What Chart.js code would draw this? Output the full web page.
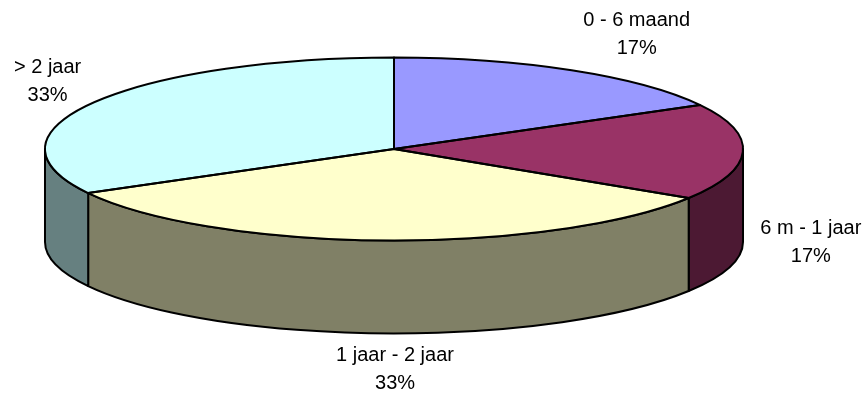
<!DOCTYPE html>
<html>
<head>
<meta charset="utf-8">
<script src="https://cdn.jsdelivr.net/npm/chart.js@4.4.1/dist/chart.umd.min.js"></script>
<style>
  html, body { margin: 0; padding: 0; background: #fff; }
  canvas { display: block; }
</style>
</head>
<body>
<canvas id="ageChart" width="866" height="394"></canvas>
<script>
// Age groups and their share (percent)
const categories = ['0 - 6 maand', '6 m - 1 jaar', '1 jaar - 2 jaar', '> 2 jaar'];
const shares = [17, 17, 33, 33];

const topColors = ['#9999FF', '#993366', '#FFFFCC', '#CCFFFF'];
const sideColors = ['#4C4C80', '#4C1933', '#808066', '#668080'];

// Turns the flat pie into a tilted disc: squash to an ellipse, add a rim, put labels outside
const pie3d = {
    id: 'pie3d',
    geometry(chart) {
        const area = chart.chartArea;
        const arcs = chart.getDatasetMeta(0).data;
        const r = arcs[0].outerRadius;
        return { cx: arcs[0].x, cy: arcs[0].y, rx: (area.right - area.left) / 2, ry: r, r: r, arcs: arcs };
    },
    beforeDatasetsDraw(chart, args, opts) {
        const ctx = chart.ctx;
        const g = this.geometry(chart);

        // front rim, only the part facing the viewer (0..PI)
        ctx.save();
        ctx.lineWidth = opts.lineWidth;
        ctx.strokeStyle = opts.lineColor;
        ctx.lineJoin = 'round';
        g.arcs.forEach((arc, i) => {
            const a = Math.max(arc.startAngle, 0);
            const b = Math.min(arc.endAngle, Math.PI);
            if (b <= a) return;
            ctx.beginPath();
            ctx.ellipse(g.cx, g.cy, g.rx, g.ry, 0, a, b);
            ctx.ellipse(g.cx, g.cy + opts.depth, g.rx, g.ry, 0, b, a, true);
            ctx.closePath();
            ctx.fillStyle = sideColors[i];
            ctx.fill();
            ctx.stroke();
        });
        ctx.restore();

        // top face: let Chart.js draw its arcs, stretched horizontally
        ctx.save();
        ctx.translate(g.cx, g.cy);
        ctx.scale(g.rx / g.r, g.ry / g.r);
        ctx.translate(-g.cx, -g.cy);
    },
    afterDatasetsDraw(chart, args, opts) {
        const ctx = chart.ctx;
        ctx.restore();
        const g = this.geometry(chart);
        const total = shares.reduce((s, v) => s + v, 0);

        ctx.save();
        ctx.lineWidth = opts.lineWidth;
        ctx.strokeStyle = opts.lineColor;
        ctx.lineJoin = 'round';
        g.arcs.forEach((arc) => {
            ctx.beginPath();
            ctx.moveTo(g.cx, g.cy);
            ctx.ellipse(g.cx, g.cy, g.rx, g.ry, 0, arc.startAngle, arc.endAngle);
            ctx.closePath();
            ctx.stroke();
        });

        ctx.fillStyle = '#000';
        ctx.font = opts.font;
        ctx.textAlign = 'center';
        ctx.textBaseline = 'middle';
        g.arcs.forEach((arc, i) => {
            const mid = (arc.startAngle + arc.endAngle) / 2;
            const x = g.cx + g.rx * Math.cos(mid) + opts.labelOffsets[i][0];
            const y = g.cy + g.ry * Math.sin(mid) + opts.labelOffsets[i][1];
            const pct = Math.round(shares[i] / total * 100) + '%';
            ctx.fillText(categories[i], x, y - opts.lineHeight / 2);
            ctx.fillText(pct, x, y + opts.lineHeight / 2);
        });
        ctx.restore();
    }
};

new Chart(document.getElementById('ageChart').getContext('2d'), {
    type: 'pie',
    data: {
        labels: categories,
        datasets: [{
            data: shares,
            backgroundColor: topColors,
            borderWidth: 0,
            hoverOffset: 0,
            clip: false
        }]
    },
    options: {
        responsive: false,
        animation: false,
        events: [],
        layout: {
            padding: { left: 45, right: 123, top: 57.5, bottom: 153.5 }
        },
        plugins: {
            legend: { display: false },
            tooltip: { enabled: false },
            pie3d: {
                depth: 93,
                lineWidth: 2,
                lineColor: '#000',
                font: '20px "Liberation Sans", Arial, sans-serif',
                lineHeight: 28,
                labelOffsets: [[65, -36], [68, 91], [12, 129], [-46, -21]]
            }
        }
    },
    plugins: [pie3d]
});
</script>
</body>
</html>
